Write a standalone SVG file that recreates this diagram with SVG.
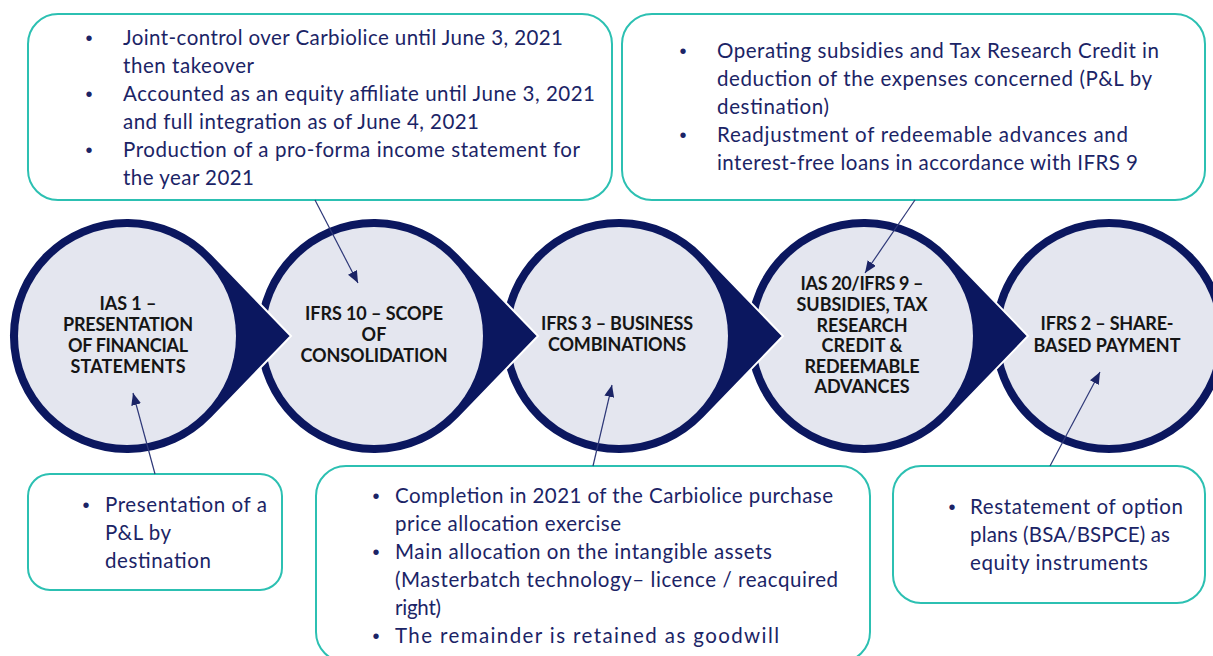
<svg xmlns="http://www.w3.org/2000/svg" width="1213" height="656" viewBox="0 0 1213 656">
<style>
.drop{fill:#0B175F;stroke:#ffffff;stroke-width:2}
.inner{fill:#E4E6EF}
.ct{font-family:Lato,"Liberation Sans",sans-serif;font-weight:700;font-size:18px;fill:#151515;text-anchor:middle}
.box{fill:#ffffff;stroke:#2CC0B2;stroke-width:2}
.bt{font-family:Lato,"Liberation Sans",sans-serif;font-size:20.5px;fill:#1B2466}
.bul{font-family:"Liberation Sans",sans-serif;font-size:20px;fill:#1B2466;text-anchor:middle}
.con{stroke:#2E3878;stroke-width:1.2;fill:none;marker-end:url(#ah)}
</style>
<defs>
<path id="dropshape" d="M84.9,-81.9 L164,0 L84.9,81.9 A118,118 0 1 1 84.9,-81.9 Z"/>
<marker id="ah" viewBox="0 0 12 10" refX="12" refY="5" markerWidth="12" markerHeight="10" markerUnits="userSpaceOnUse" orient="auto">
<path d="M0,0 L12,5 L0,10 Z" fill="#1B2466"/>
</marker>
</defs>
<rect width="1213" height="656" fill="#ffffff"/>

<g id="node5">
<circle cx="1109" cy="336" r="118" fill="#0B175F" stroke="#ffffff" stroke-width="2"/>
<circle class="inner" cx="1109" cy="336" r="109"/>
<text class="ct"><tspan x="1107" y="330" textLength="133">IFRS 2 – SHARE-</tspan><tspan x="1107" y="352" textLength="147">BASED PAYMENT</tspan></text>
</g>
<g id="node4">
<use href="#dropshape" class="drop" transform="translate(864,336)"/>
<circle class="inner" cx="864" cy="336" r="109"/>
<text class="ct"><tspan x="862" y="290" textLength="123">IAS 20/IFRS 9 –</tspan><tspan x="862" y="311" textLength="131">SUBSIDIES, TAX</tspan><tspan x="862" y="332" textLength="91">RESEARCH</tspan><tspan x="862" y="352" textLength="81">CREDIT &amp;</tspan><tspan x="862" y="373" textLength="115">REDEEMABLE</tspan><tspan x="862" y="393" textLength="95">ADVANCES</tspan></text>
</g>
<g id="node3">
<use href="#dropshape" class="drop" transform="translate(619,336)"/>
<circle class="inner" cx="619" cy="336" r="109"/>
<text class="ct"><tspan x="617" y="330" textLength="152">IFRS 3 – BUSINESS</tspan><tspan x="617" y="351" textLength="138">COMBINATIONS</tspan></text>
</g>
<g id="node2">
<use href="#dropshape" class="drop" transform="translate(374,336)"/>
<circle class="inner" cx="374" cy="336" r="109"/>
<text class="ct"><tspan x="374" y="320" textLength="138">IFRS 10 – SCOPE</tspan><tspan x="374" y="341" textLength="25">OF</tspan><tspan x="374" y="362" textLength="147">CONSOLIDATION</tspan></text>
</g>
<g id="node1">
<use href="#dropshape" class="drop" transform="translate(127,336)"/>
<circle class="inner" cx="127" cy="336" r="109"/>
<text class="ct"><tspan x="128" y="310" textLength="57">IAS 1 –</tspan><tspan x="128" y="331" textLength="130">PRESENTATION</tspan><tspan x="128" y="352" textLength="120">OF FINANCIAL</tspan><tspan x="128" y="373" textLength="115">STATEMENTS</tspan></text>
</g>

<g id="box-ifrs10">
<rect class="box" x="28" y="14" width="584" height="186" rx="30"/>
<text class="bul" x="89" y="45">•</text>
<text class="bul" x="89" y="101">•</text>
<text class="bul" x="89" y="157">•</text>
<text class="bt"><tspan x="123" y="45" textLength="440">Joint-control over Carbiolice until June 3, 2021</tspan><tspan x="123" y="73" textLength="131">then takeover</tspan><tspan x="123" y="101" textLength="472">Accounted as an equity affiliate until June 3, 2021</tspan><tspan x="123" y="129" textLength="356">and full integration as of June 4, 2021</tspan><tspan x="123" y="157" textLength="457">Production of a pro-forma income statement for</tspan><tspan x="123" y="185" textLength="131">the year 2021</tspan></text>
</g>
<g id="box-ias20">
<rect class="box" x="622" y="14" width="583" height="186" rx="30"/>
<text class="bul" x="683" y="58">•</text>
<text class="bul" x="683" y="142">•</text>
<text class="bt"><tspan x="717" y="58" textLength="442">Operating subsidies and Tax Research Credit in</tspan><tspan x="717" y="86" textLength="435">deduction of the expenses concerned (P&amp;L by</tspan><tspan x="717" y="114" textLength="112">destination)</tspan><tspan x="717" y="142" textLength="411">Readjustment of redeemable advances and</tspan><tspan x="717" y="170" textLength="421">interest-free loans in accordance with IFRS 9</tspan></text>
</g>
<g id="box-ias1">
<rect class="box" x="28" y="474" width="254" height="116" rx="22"/>
<text class="bul" x="86" y="512">•</text>
<text class="bt"><tspan x="105" y="512" textLength="162">Presentation of a</tspan><tspan x="105" y="540" textLength="66">P&amp;L by</tspan><tspan x="105" y="568" textLength="106">destination</tspan></text>
</g>
<g id="box-ifrs3">
<rect class="box" x="316" y="466" width="554" height="196" rx="30"/>
<text class="bul" x="376" y="503">•</text>
<text class="bul" x="376" y="559">•</text>
<text class="bul" x="376" y="643">•</text>
<text class="bt"><tspan x="395" y="503" textLength="438">Completion in 2021 of the Carbiolice purchase</tspan><tspan x="395" y="531" textLength="226">price allocation exercise</tspan><tspan x="395" y="559" textLength="377">Main allocation on the intangible assets</tspan><tspan x="395" y="587" textLength="443">(Masterbatch technology– licence / reacquired</tspan><tspan x="395" y="615" textLength="46">right)</tspan><tspan x="395" y="643" textLength="384">The remainder is retained as goodwill</tspan></text>
</g>
<g id="box-ifrs2">
<rect class="box" x="893" y="466" width="312" height="137" rx="28"/>
<text class="bul" x="952" y="514">•</text>
<text class="bt"><tspan x="970" y="514" textLength="213">Restatement of option</tspan><tspan x="970" y="542" textLength="200">plans (BSA/BSPCE) as</tspan><tspan x="970" y="570" textLength="178">equity instruments</tspan></text>
</g>

<g id="connectors">
<line class="con" x1="315" y1="200" x2="358" y2="283"/>
<line class="con" x1="915" y1="200" x2="865" y2="273"/>
<line class="con" x1="155" y1="474" x2="133" y2="393"/>
<line class="con" x1="593" y1="466" x2="612" y2="385"/>
<line class="con" x1="1050" y1="466" x2="1100" y2="372"/>
</g>
</svg>
